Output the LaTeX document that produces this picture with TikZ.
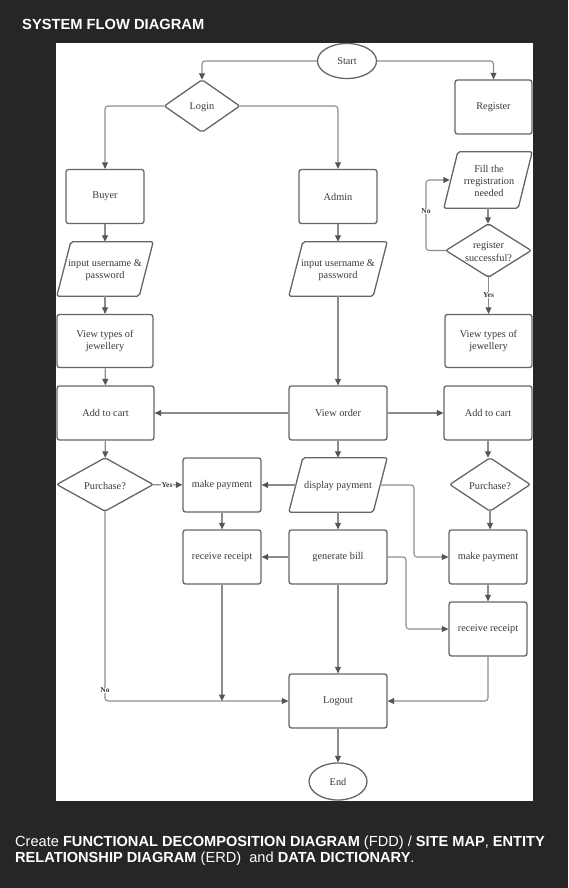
\documentclass[tikz,border=0pt]{standalone}
\usepackage{fontspec}
\setmainfont{Liberation Serif}
\newfontfamily\arialf{Liberation Sans}
\usetikzlibrary{arrows.meta,shapes.geometric,calc}
\definecolor{bgc}{HTML}{262626}
\definecolor{bordc}{HTML}{666666}
\definecolor{linec}{HTML}{8C8C8C}
\definecolor{tipc}{HTML}{555555}
\definecolor{txtc}{HTML}{3A3A3A}
\newcommand{\nfs}{\fontsize{10.3}{12.4}\selectfont}
\tikzset{
  box/.style={draw=bordc, line width=1.3pt, rounded corners=2.5pt, fill=white,
    minimum width=78pt, minimum height=54pt, inner sep=1pt, align=center, text=txtc, font=\nfs},
  ghost/.style={draw=none, minimum width=#1, minimum height=54pt, inner sep=0pt, align=center, text=txtc, font=\nfs},
  oval/.style={ellipse, draw=bordc, line width=1.3pt, fill=white, minimum width=59pt, minimum height=35pt, inner sep=0pt, text=txtc, font=\nfs},
  shp/.style={draw=bordc, line width=1.3pt, rounded corners=2pt, fill=white},
  conn/.style={draw=linec, line width=1.1pt, rounded corners=3pt, -{Triangle[length=6.5pt,width=6pt,color=tipc]}},
  lbl/.style={fill=white, inner sep=0.5pt, text=txtc, font=\fontsize{7.5}{8}\selectfont\bfseries},
}
\newcommand{\para}[1]{\draw[shp] ($(#1.north west)+(14,0)$) -- (#1.north east) -- ($(#1.south east)+(-14,0)$) -- (#1.south west) -- cycle;}
\newcommand{\diam}[1]{\draw[shp] (#1.north) -- (#1.east) -- (#1.south) -- (#1.west) -- cycle;}
\begin{document}
\begin{tikzpicture}[x=1pt,y=-1pt]
\useasboundingbox (0,0) rectangle (568,888);
\fill[bgc] (0,0) rectangle (568,888);
\fill[white] (56,43) rectangle (533,801);
\node[anchor=west, inner sep=0pt, text=white, font=\arialf\bfseries\fontsize{14.7}{16}\selectfont] (title) at (22,24) {SYSTEM FLOW DIAGRAM};
\node[anchor=north west, text=white, align=left, font=\arialf\fontsize{14.6}{15.3}\selectfont, inner sep=0pt] (foot) at (15,836)
  {Create \textbf{FUNCTIONAL DECOMPOSITION DIAGRAM} (FDD) / \textbf{SITE MAP}, \textbf{ENTITY}\\
   \textbf{RELATIONSHIP DIAGRAM} (ERD)\ \ and \textbf{DATA DICTIONARY}.};

\node[ghost=75pt, minimum height=52pt] (login) at (202,106) {};
\diam{login}
\node[ghost=75pt, minimum height=52pt] at (202,107) {Login};

\node[ghost=88pt, minimum height=56pt] (fill) at (488,180) {};
\para{fill}
\node[ghost=88pt, minimum height=56pt] at (489,181) {Fill the\\rregistration\\needed};

\node[ghost=85pt, minimum height=53pt] (regq) at (488.5,250.5) {};
\diam{regq}
\node[ghost=85pt, minimum height=53pt] at (488.5,251.5) {register\\successful?};

\node[ghost=96pt] (bin) at (105,269) {};
\para{bin}
\node[ghost=96pt] at (105,270) {input username \&\\password};

\node[ghost=98pt] (ain) at (338,269) {};
\para{ain}
\node[ghost=98pt] at (338,270) {input username \&\\password};

\node[ghost=96pt, minimum height=53pt] (bpur) at (105,484.5) {};
\diam{bpur}
\node[ghost=96pt, minimum height=53pt] at (105,485.5) {Purchase?};

\node[ghost=98pt] (dp) at (338,485) {};
\para{dp}
\node[ghost=98pt] at (338,486) {display payment};

\node[ghost=80pt, minimum height=53pt] (rpur) at (490,484.5) {};
\diam{rpur}
\node[ghost=80pt, minimum height=53pt] at (490,485.5) {Purchase?};

\node[oval] (start) at (347,61) {Start};
\node[box, minimum width=77pt] (reg) at (493.5,107) {Register};
\node[box] (buyer) at (105,196.5) {Buyer};
\node[box] (admin) at (338,196.5) {Admin};
\node[box, minimum width=96pt, minimum height=53pt] (bview) at (105,341) {View types of\\jewellery};
\node[box, minimum width=87pt, minimum height=53pt] (rview) at (488.5,341) {View types of\\jewellery};
\node[box, minimum width=97pt] (bcart) at (105.5,413) {Add to cart};
\node[box, minimum width=98pt] (vorder) at (338,413) {View order};
\node[box, minimum width=88pt] (rcart) at (488,413) {Add to cart};
\node[box] (bpay) at (222,485) {make payment};
\node[box] (brec) at (222,557) {receive receipt};
\node[box, minimum width=98pt] (gen) at (338,557) {generate bill};
\node[box] (rpay) at (488,557) {make payment};
\node[box] (rrec) at (488,629) {receive receipt};
\node[box, minimum width=98pt] (logout) at (338,701) {Logout};
\node[oval, minimum width=58pt, minimum height=37pt] (end) at (338,781.5) {End};

\coordinate (noA) at (426,250.5);
\coordinate (noB) at (426,180);
\coordinate (dpR) at (414,485);
\coordinate (dpD) at (414,557);
\coordinate (gR) at (406,557);
\coordinate (gD) at (406,629);
\coordinate (bNo) at (105,701);
\coordinate (brJ) at (222,701);
\coordinate (rrJ) at (488,701);

\draw[conn] (start.west) -| (login.north);
\draw[conn] (start.east) -| (reg.north);
\draw[conn] (login.west) -| (buyer.north);
\draw[conn] (login.east) -| (admin.north);
\draw[conn] (buyer) -- (bin);
\draw[conn] (bin) -- (bview);
\draw[conn] (bview) -- (bcart);
\draw[conn] (admin) -- (ain);
\draw[conn] (ain) -- (vorder);
\draw[conn] (fill.south) -- (fill.south |- regq.north);
\draw[conn] (regq.west) -- (noA) -- (noB) -- ($(fill.west)+(6,0)$);
\node[lbl] (nolbl) at (426,211) {No};
\draw[conn] (regq.south) -- (regq.south |- rview.north);
\node[lbl] (yeslbl) at (488.5,295) {Yes};
\draw[conn] (vorder) -- (bcart);
\draw[conn] (vorder) -- (rcart);
\draw[conn] (vorder) -- (dp);
\draw[conn] (bcart) -- (bpur);
\draw[conn] (bpur) -- (bpay);
\node[lbl] (yes2) at (167,485) {Yes};
\draw[conn] ($(dp.west)+(7,0)$) -- (bpay);
\draw[conn] ($(dp.east)+(-7,0)$) -- (dpR) -- (dpD) -- (rpay.west);
\draw[conn] (rcart.south) -- (rcart.south |- rpur.north);
\draw[conn] (rpur.south) -- (rpur.south |- rpay.north);
\draw[conn] (bpay) -- (brec);
\draw[conn] (dp) -- (gen);
\draw[conn] (gen) -- (brec);
\draw[conn] (gen.east) -- (gR) -- (gD) -- (rrec.west);
\draw[conn] (rpay) -- (rrec);
\draw[conn] (gen) -- (logout);
\draw[conn] (bpur.south) -- (bNo) -- (logout.west);
\node[lbl] (no2) at (105,690) {No};
\draw[conn] (brec.south) -- (brJ);
\draw[conn] (rrec.south) -- (rrJ) -- (logout.east);
\draw[conn] (logout) -- (end);
\end{tikzpicture}
\end{document}
